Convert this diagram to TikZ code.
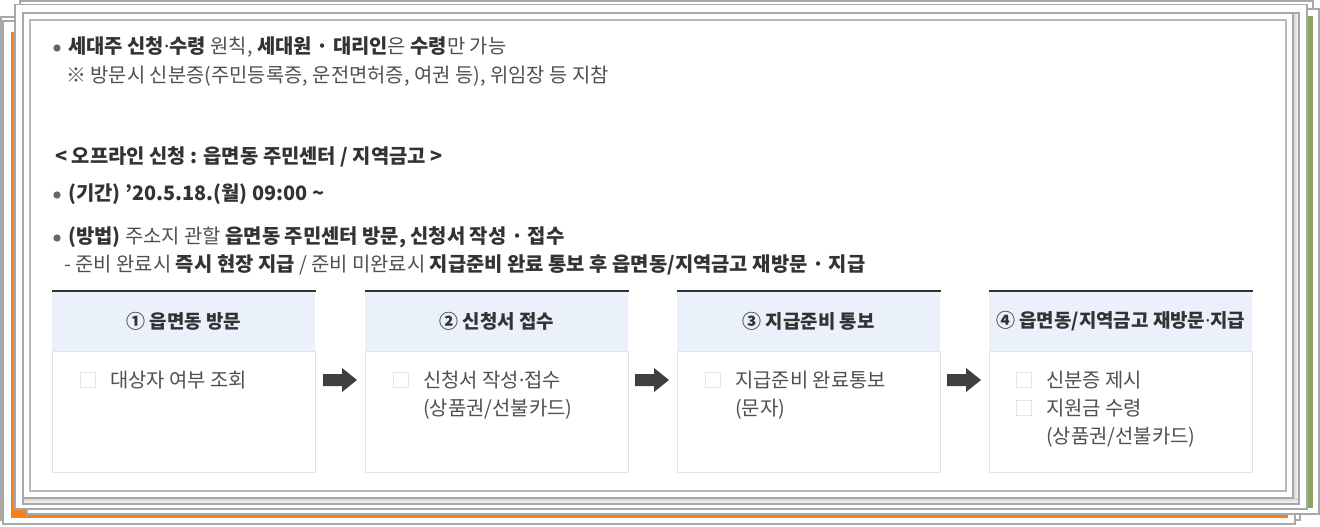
\documentclass[tikz,border=0pt]{standalone}
\usepackage{fontspec}
\setmainfont{Noto Sans CJK KR}
\newfontfamily\latf{Noto Sans}
\newcommand\mdot{{\latf ·}}
\definecolor{txtc}{HTML}{333333}
\definecolor{regc}{HTML}{505050}
\definecolor{frmc}{HTML}{A8A8A8}
\definecolor{orng}{HTML}{F5821F}
\definecolor{grnc}{HTML}{8DA562}
\definecolor{hdc}{HTML}{EAF1FA}
\definecolor{bdc}{HTML}{E4E4E4}
\definecolor{arrc}{HTML}{404040}
\tikzset{sheet/.style = {draw=frmc, fill=white, line width=0.9pt}}
\tikzset{dot/.style = {fill=gray!80!black, circle, inner sep=0, minimum size=5.5pt}}
\tikzset{line/.style = {anchor=west, inner sep=0, text=regc, font=\fontsize{14.9}{18}\selectfont}}
\tikzset{head/.style = {fill=hdc, anchor=north west, inner sep=0, minimum width=197.25pt, minimum height=45pt, text=txtc, font=\fontsize{14.2}{17}\selectfont\bfseries}}
\tikzset{panel/.style = {draw=bdc, fill=white, anchor=north west, inner sep=0, line width=0.8pt, minimum width=197.25pt, minimum height=90.75pt}}
\tikzset{chk/.style = {draw=bdc, fill=white, inner sep=0, minimum size=11pt, line width=0.8pt}}

\begin{document}
\begin{tikzpicture}[x=0.75pt,y=-0.75pt]
        \useasboundingbox (0,0) rectangle (1320,526);
        % stacked sheets
        \draw [sheet] (1,17) rectangle (1300,520);
        \draw [sheet] (3,21) rectangle (1295,524);
        \fill [orng] (11,32) rectangle (1288,517.5);
        \draw [sheet] (20,1) rectangle (1313,505);
        \draw [sheet] (27,9) rectangle (1319,514);
        \fill [grnc] (1308,16) rectangle (1313,508);
        \draw [sheet] (15,4.5) rectangle (1307,509);
        % main frame with shadow
        \fill [white] (23,13) rectangle (1299,504);
        \shade [left color=gray!35, right color=white] (1293,13) rectangle (1299,504);
        \shade [top color=gray!35, bottom color=white] (23,498) rectangle (1299,504);
        \draw [frmc, line width=1.5pt] (23,13) rectangle (1299,504);
        \draw [frmc, line width=0.9pt] (1293,13) -- (1293,498) -- (23,498);
        \draw [frmc!80, line width=0.9pt] (30,20) rectangle (1286,491);

        % text lines
        \node [dot] (d1) at (57,48) {};
        \node [line] (l1) at (68,47) {{\bfseries\color{txtc}세대주 신청\mdot 수령} 원칙, {\bfseries\color{txtc}세대원 · 대리인}은 {\bfseries\color{txtc}수령}만 가능};
        \node [line] (l2) at (66,76) {※ 방문시 신분증(주민등록증, 운전면허증, 여권 등), 위임장 등 지참};
        \node [line, text=txtc, font=\fontsize{14.9}{18}\selectfont\bfseries] (l3) at (55,157) {< 오프라인 신청 : 읍면동 주민센터 / 지역금고 >};
        \node [dot] (d2) at (57,195) {};
        \node [line, text=txtc, font=\fontsize{14.9}{18}\selectfont\bfseries] (l4) at (68,194) {(기간) ’20.5.18.(월) 09:00 \textasciitilde};
        \node [dot] (d3) at (57,238) {};
        \node [line] (l5) at (68,237) {{\bfseries\color{txtc}(방법)} 주소지 관할 {\bfseries\color{txtc}읍면동 주민센터 방문, 신청서 작성 · 접수}};
        \node [line] (l6) at (64,265) {- 준비 완료시 {\bfseries\color{txtc}즉시 현장 지급} / 준비 미완료시 {\bfseries\color{txtc}지급준비 완료 통보 후 읍면동/지역금고 재방문 · 지급}};

        % step boxes
        \node [head] (h1) at (52,291) {① 읍면동 방문};
        \node [head] (h2) at (365,291) {② 신청서 접수};
        \node [head] (h3) at (677,291) {③ 지급준비 통보};
        \node [head] (h4) at (989,291) {④ 읍면동/지역금고 재방문\mdot 지급};
        \node [panel] (p1) at (52,351) {};
        \node [panel] (p2) at (365,351) {};
        \node [panel] (p3) at (677,351) {};
        \node [panel] (p4) at (989,351) {};
        \foreach \n in {1,2,3,4}
            \draw [txtc, line width=1pt] (h\n.north west) -- (h\n.north east);

        \node [chk] (c1) at (88,380) {};
        \node [line] (t1) at (110,380) {대상자 여부 조회};
        \node [chk] (c2) at (401,380) {};
        \node [line] (t2) at (423,380) {신청서 작성\mdot 접수};
        \node [line] (t2b) at (423,409) {(상품권/선불카드)};
        \node [chk] (c3) at (713,380) {};
        \node [line] (t3) at (735,380) {지급준비 완료통보};
        \node [line] (t3b) at (735,409) {(문자)};
        \node [chk] (c4) at (1024,380) {};
        \node [line] (t4) at (1046,380) {신분증 제시};
        \node [chk] (c4b) at (1024,408) {};
        \node [line] (t4b) at (1046,408) {지원금 수령};
        \node [line] (t4c) at (1046,437) {(상품권/선불카드)};

        % block arrows
        \foreach \s in {0,312,624}
            \fill [arrc, xshift=\s*0.75pt] (323,374) -- (342,374) -- (342,368) -- (357,380)
                -- (342,392) -- (342,386) -- (323,386) -- cycle;
    \end{tikzpicture}
\end{document}
